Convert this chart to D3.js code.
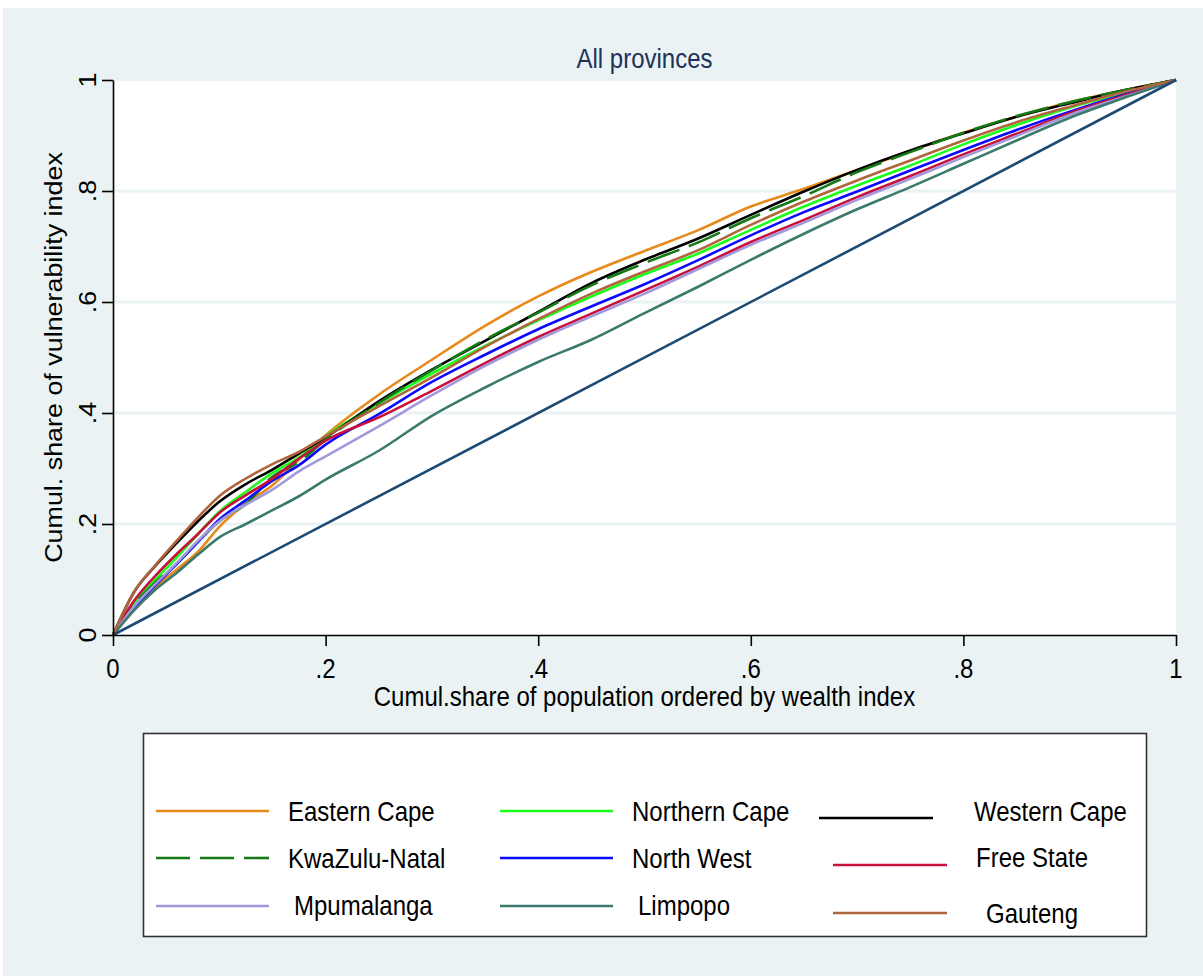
<!DOCTYPE html>
<html>
<head>
<meta charset="utf-8">
<script src="https://cdn.jsdelivr.net/npm/d3@7"></script>
<style>
  html, body { margin: 0; padding: 0; background: #ffffff; }
  svg { display: block; }
  text { font-family: "Liberation Sans", Arial, sans-serif; }
</style>
</head>
<body>
<svg id="chart" width="1203" height="976"></svg>
<script>
// Cumulative share of population, ordered by wealth index
const popShare = [0, 0.02, 0.04, 0.06, 0.08, 0.10, 0.125, 0.15, 0.175, 0.20,
  0.25, 0.30, 0.35, 0.40, 0.45, 0.50, 0.55, 0.60, 0.65, 0.70, 0.75, 0.80,
  0.85, 0.90, 0.95, 1];

// Cumulative share of vulnerability index, one concentration curve per province
const easternCape  = [0, 0.046, 0.086, 0.118, 0.150, 0.195, 0.237, 0.270, 0.316, 0.360,
  0.433, 0.496, 0.557, 0.610, 0.654, 0.692, 0.729, 0.772, 0.804, 0.838, 0.872, 0.905,
  0.934, 0.960, 0.981, 1];
const northernCape = [0, 0.058, 0.100, 0.140, 0.182, 0.222, 0.258, 0.292, 0.320, 0.358,
  0.417, 0.471, 0.521, 0.567, 0.610, 0.650, 0.687, 0.730, 0.772, 0.810, 0.846, 0.884,
  0.919, 0.950, 0.976, 1];
const westernCape  = [0, 0.078, 0.125, 0.166, 0.205, 0.240, 0.272, 0.298, 0.327, 0.356,
  0.421, 0.478, 0.530, 0.582, 0.634, 0.676, 0.714, 0.757, 0.799, 0.838, 0.873, 0.904,
  0.934, 0.958, 0.981, 1];
const kwaZuluNatal = [0, 0.055, 0.095, 0.128, 0.168, 0.205, 0.236, 0.285, 0.312, 0.352,
  0.418, 0.477, 0.532, 0.581, 0.630, 0.670, 0.707, 0.751, 0.791, 0.834, 0.870, 0.905,
  0.935, 0.960, 0.981, 1];
const northWest    = [0, 0.050, 0.090, 0.128, 0.168, 0.208, 0.243, 0.278, 0.306, 0.343,
  0.398, 0.456, 0.505, 0.551, 0.592, 0.632, 0.675, 0.720, 0.762, 0.799, 0.837, 0.874,
  0.910, 0.943, 0.973, 1];
const freeState    = [0, 0.062, 0.107, 0.146, 0.182, 0.220, 0.252, 0.282, 0.318, 0.350,
  0.392, 0.440, 0.490, 0.537, 0.579, 0.621, 0.663, 0.708, 0.748, 0.789, 0.827, 0.866,
  0.903, 0.940, 0.971, 1];
const mpumalanga   = [0, 0.052, 0.092, 0.130, 0.170, 0.205, 0.235, 0.262, 0.295, 0.322,
  0.376, 0.432, 0.485, 0.532, 0.574, 0.615, 0.659, 0.703, 0.743, 0.784, 0.822, 0.861,
  0.899, 0.937, 0.969, 1];
const limpopo      = [0, 0.045, 0.082, 0.112, 0.145, 0.176, 0.200, 0.225, 0.250, 0.280,
  0.332, 0.395, 0.446, 0.492, 0.532, 0.580, 0.627, 0.676, 0.723, 0.767, 0.807, 0.849,
  0.891, 0.932, 0.967, 1];
const gauteng      = [0, 0.078, 0.126, 0.170, 0.212, 0.250, 0.282, 0.308, 0.330, 0.358,
  0.412, 0.464, 0.519, 0.569, 0.615, 0.655, 0.693, 0.739, 0.781, 0.819, 0.855, 0.891,
  0.924, 0.952, 0.978, 1];

// Line of equality
const equality = [0, 1];

const provinceNames = ["Eastern Cape", "Northern Cape", "Western Cape",
  "KwaZulu-Natal", "North West", "Free State",
  "Mpumalanga", "Limpopo", "Gauteng"];
const provinceValues = [easternCape, northernCape, westernCape,
  kwaZuluNatal, northWest, freeState,
  mpumalanga, limpopo, gauteng];
const provinceColors = ["#e8891c", "#1aff1a", "#000000",
  "#157a15", "#0a0aff", "#c8103a",
  "#a199dc", "#3b7a6c", "#b0653d"];
const provinceDash = [null, null, null, "34,10", null, null, null, null, null];

const xTicks = [0, 0.2, 0.4, 0.6, 0.8, 1];
const xTickLabels = ["0", ".2", ".4", ".6", ".8", "1"];
const yTicks = [0, 0.2, 0.4, 0.6, 0.8, 1];
const yTickLabels = ["0", ".2", ".4", ".6", ".8", "1"];

const titleText = "All provinces";
const xTitle = "Cumul.share of population ordered by wealth index";
const yTitle = "Cumul. share of vulnerability index";

// ---- layout ----
const W = 1203, H = 976;
const plot = { left: 113, right: 1176, top: 80, bottom: 635 };
const BG = "#eaf2f3";
const STRETCH = 1.12;   // text in this figure is drawn slightly tall

const svg = d3.select("#chart");

svg.append("rect").attr("x", 3).attr("y", 8).attr("width", W - 3).attr("height", H - 8)
  .attr("fill", BG);

const x = d3.scaleLinear().domain([0, 1]).range([plot.left, plot.right]);
const y = d3.scaleLinear().domain([0, 1]).range([plot.bottom, plot.top]);

// plot region
svg.append("rect")
  .attr("x", plot.left).attr("y", plot.top + 1)
  .attr("width", plot.right - plot.left).attr("height", plot.bottom - plot.top - 1)
  .attr("fill", "#ffffff");

// horizontal grid
svg.append("g")
  .selectAll("line")
  .data(yTicks.filter(v => v > 0 && v < 1))
  .join("line")
  .attr("x1", plot.left).attr("x2", plot.right)
  .attr("y1", d => y(d)).attr("y2", d => y(d))
  .attr("stroke", BG).attr("stroke-width", 3);

// helper for slightly tall text
function tallText(g, px, py, str, opts = {}) {
  const rot = opts.rotate ? ` rotate(${opts.rotate})` : "";
  return g.append("text")
    .attr("transform", `translate(${px},${py}) scale(1,${STRETCH})${rot}`)
    .attr("text-anchor", opts.anchor || "start")
    .attr("font-size", opts.size || 24)
    .attr("fill", opts.fill || "#000")
    .text(str);
}

// curves
const line = d3.line()
  .x((d, i) => x(popShare[i]))
  .y(d => y(d))
  .curve(d3.curveMonotoneX);

const curves = svg.append("g").attr("fill", "none").attr("stroke-linejoin", "round");
provinceValues.forEach((vals, k) => {
  curves.append("path")
    .attr("d", line(vals))
    .attr("stroke", provinceColors[k])
    .attr("stroke-width", 2.6)
    .attr("stroke-dasharray", provinceDash[k]);
});

const eqLine = d3.line().x(d => x(d)).y(d => y(d));
curves.append("path")
  .attr("d", eqLine(equality))
  .attr("stroke", "#1c4a72")
  .attr("stroke-width", 2.6);

// axes
const xAxis = d3.axisBottom(x).tickValues(xTicks).tickFormat("").tickSize(11).tickSizeOuter(0);
const yAxis = d3.axisLeft(y).tickValues(yTicks).tickFormat("").tickSize(11).tickSizeOuter(0);

const gx = svg.append("g").attr("transform", `translate(0,${plot.bottom})`).call(xAxis);
const gy = svg.append("g").attr("transform", `translate(${plot.left},0)`).call(yAxis);
[gx, gy].forEach(g => {
  g.select(".domain").attr("stroke", "#000").attr("stroke-width", 1.6);
  g.selectAll(".tick line").attr("stroke", "#000").attr("stroke-width", 1.6);
});

const labels = svg.append("g");
xTicks.forEach((v, i) => tallText(labels, x(v), 678, xTickLabels[i], { anchor: "middle" }));
yTicks.forEach((v, i) => tallText(labels, 96, y(v), yTickLabels[i], { anchor: "middle", rotate: -90 }));

tallText(labels, (plot.left + plot.right) / 2, 706, xTitle, { anchor: "middle" });
tallText(labels, 62, (plot.top + plot.bottom) / 2, yTitle, { anchor: "middle", rotate: -90 });
tallText(labels, (plot.left + plot.right) / 2, 68, titleText, { anchor: "middle", fill: "#22305a" });

// legend
const legend = svg.append("g");
legend.append("rect")
  .attr("x", 143.5).attr("y", 733.5).attr("width", 1003).attr("height", 203)
  .attr("fill", "#ffffff").attr("stroke", "#333333").attr("stroke-width", 1.6);

// key placement: [line x1, line x2, line y, label x, label baseline]
const legendLayout = [
  [156, 269, 811, 288, 821], [500, 613, 811, 632, 821], [819, 933, 818, 974, 821],
  [156, 269, 858, 288, 868], [500, 613, 858, 632, 868], [833, 947, 865, 976, 867],
  [156, 269, 906, 294, 915], [500, 613, 906, 638, 915], [833, 947, 913, 986, 923]
];
provinceNames.forEach((name, k) => {
  const [x1, x2, ly, tx, ty] = legendLayout[k];
  legend.append("line")
    .attr("x1", x1).attr("x2", x2).attr("y1", ly).attr("y2", ly)
    .attr("stroke", provinceColors[k]).attr("stroke-width", 2.6)
    .attr("stroke-dasharray", provinceDash[k]);
  tallText(legend, tx, ty, name);
});
</script>
</body>
</html>
